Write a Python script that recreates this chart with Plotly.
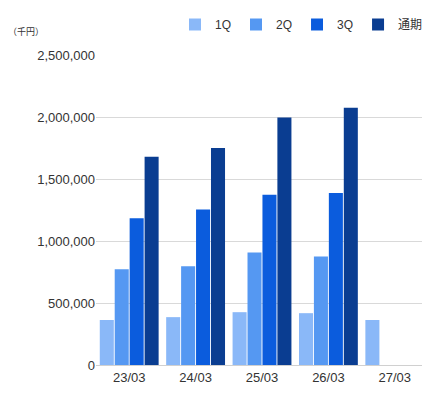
import plotly.graph_objects as go

categories = ["23/03", "24/03", "25/03", "26/03", "27/03"]
q1 = [363000, 386000, 426000, 418000, 363000]
q2 = [773000, 797000, 907000, 875000, None]
q3 = [1183000, 1254000, 1372000, 1388000, None]
fy = [1680000, 1751000, 1995000, 2074000, None]
names = ["1Q", "2Q", "3Q", "通期"]
colors = ["#8AB8F8", "#5598F2", "#0B5CDD", "#0A3D91"]

fig = go.Figure()
for n, v, c in zip(names, [q1, q2, q3, fy], colors):
    fig.add_bar(x=categories, y=v, name=n, marker_color=c, marker_line_width=0)

fig.update_layout(
    width=430, height=400, barmode="group", bargap=0.1, bargroupgap=0.06,
    plot_bgcolor="white", paper_bgcolor="white",
    font=dict(family="Liberation Sans, Noto Sans CJK JP", size=13, color="#333"),
    margin=dict(l=88, r=10, t=47, b=43, autoexpand=False),
    legend=dict(orientation="h", x=1.0, xanchor="right", yref="container", y=0.995, yanchor="top",
                font=dict(size=12), itemwidth=30, traceorder="normal", tracegroupgap=0),
    xaxis=dict(showline=True, linecolor="#d0d0d0", ticks="", tickfont=dict(size=13)),
    yaxis=dict(range=[0, 2500000], dtick=500000, tickformat=",d", gridcolor="#d9d9d9",
               zeroline=False, ticks="", tickfont=dict(size=13)),
    annotations=[dict(text="（千円）", xref="paper", yref="paper", x=-0.27, y=1.05,
                      xanchor="left", yanchor="bottom", showarrow=False, font=dict(size=9))],
)
fig.write_html("out.html")
